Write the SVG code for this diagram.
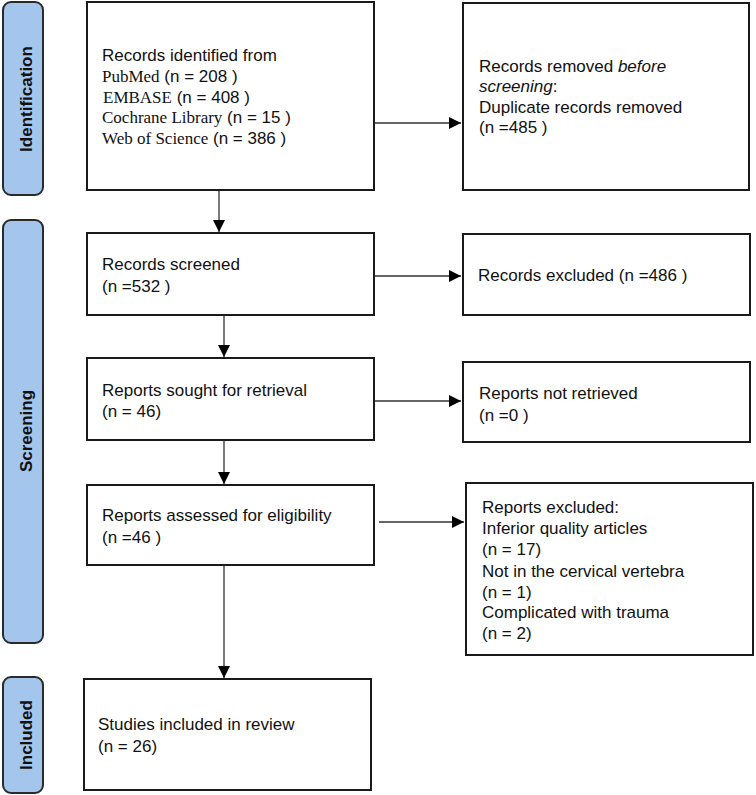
<svg xmlns="http://www.w3.org/2000/svg" width="756" height="795" viewBox="0 0 756 795">
<style>
.box{fill:#fff;stroke:#1a1a1a;stroke-width:2}
.tab{fill:#a4c6ec;stroke:#2a2a2a;stroke-width:2}
.t{font-family:"Liberation Sans",Arial,sans-serif;font-size:17px;fill:#111}
.s{font-family:"Liberation Serif","Times New Roman",serif}
.tl{font-family:"Liberation Sans",Arial,sans-serif;font-size:17px;font-weight:bold;fill:#111;text-anchor:middle}
.c{stroke:#333;stroke-width:1.3;fill:none;marker-end:url(#ah)}
</style>
<defs>
<marker id="ah" viewBox="0 0 10 10" refX="10" refY="5" markerUnits="userSpaceOnUse" markerWidth="12" markerHeight="12" orient="auto">
<path d="M0,0 L10,5 L0,10 z" fill="#000"/>
</marker>
</defs>
<rect width="756" height="795" fill="#fff"/>
<g id="tab-identification">
<rect class="tab" x="3" y="2" width="40" height="193" rx="8"/>
<text class="tl" transform="translate(31.5,99) rotate(-90)">Identification</text>
</g>
<g id="tab-screening">
<rect class="tab" x="3" y="220" width="40" height="423" rx="8"/>
<text class="tl" transform="translate(31.5,431) rotate(-90)">Screening</text>
</g>
<g id="tab-included">
<rect class="tab" x="3" y="677" width="40" height="116" rx="8"/>
<text class="tl" transform="translate(31.5,735) rotate(-90)">Included</text>
</g>
<g id="identified">
<rect class="box" x="87" y="2" width="287" height="188"/>
<text class="t" x="102" y="61">Records identified from</text>
<text class="t" x="102" y="82"><tspan class="s">PubMed</tspan> (n = 208 )</text>
<text class="t" x="103" y="103"><tspan class="s">EMBASE</tspan> (n = 408 )</text>
<text class="t" x="102" y="123"><tspan class="s">Cochrane Library</tspan> (n = 15 )</text>
<text class="t" x="102" y="144"><tspan class="s">Web of Science</tspan> (n = 386 )</text>
</g>
<g id="removed">
<rect class="box" x="463" y="3" width="286" height="187"/>
<text class="t" x="479" y="72">Records removed <tspan font-style="italic">before</tspan></text>
<text class="t" x="479" y="92"><tspan font-style="italic">screening</tspan>:</text>
<text class="t" x="479" y="113">Duplicate records removed</text>
<text class="t" x="479" y="133">(n =485 )</text>
</g>
<g id="screened">
<rect class="box" x="87" y="233" width="287" height="82"/>
<text class="t" x="102" y="270">Records screened</text>
<text class="t" x="102" y="292">(n =532 )</text>
</g>
<g id="excluded">
<rect class="box" x="463" y="234" width="287" height="81"/>
<text class="t" x="478" y="281">Records excluded (n =486 )</text>
</g>
<g id="sought">
<rect class="box" x="87" y="358" width="287" height="82"/>
<text class="t" x="102" y="396">Reports sought for retrieval</text>
<text class="t" x="102" y="417">(n = 46)</text>
</g>
<g id="not-retrieved">
<rect class="box" x="463" y="362" width="287" height="80"/>
<text class="t" x="479" y="399">Reports not retrieved</text>
<text class="t" x="479" y="421">(n =0 )</text>
</g>
<g id="assessed">
<rect class="box" x="87" y="485" width="287" height="80"/>
<text class="t" x="102" y="521">Reports assessed for eligibility</text>
<text class="t" x="102" y="543">(n =46 )</text>
</g>
<g id="reports-excluded">
<rect class="box" x="466" y="483" width="287" height="172"/>
<text class="t" x="482" y="513">Reports excluded:</text>
<text class="t" x="482" y="534">Inferior quality articles</text>
<text class="t" x="482" y="555">(n = 17)</text>
<text class="t" x="482" y="577">Not in the cervical vertebra</text>
<text class="t" x="482" y="598">(n = 1)</text>
<text class="t" x="482" y="618">Complicated with trauma</text>
<text class="t" x="482" y="639">(n = 2)</text>
</g>
<g id="included">
<rect class="box" x="84" y="679" width="287" height="111"/>
<text class="t" x="98" y="730">Studies included in review</text>
<text class="t" x="98" y="752">(n = 26)</text>
</g>
<g id="connectors">
<line class="c" x1="375" y1="123" x2="461" y2="123"/>
<line class="c" x1="219" y1="191" x2="219" y2="232"/>
<line class="c" x1="375" y1="276" x2="461" y2="276"/>
<line class="c" x1="224" y1="316" x2="224" y2="357"/>
<line class="c" x1="375" y1="401" x2="461" y2="401"/>
<line class="c" x1="224" y1="441" x2="224" y2="484"/>
<line class="c" x1="379" y1="522" x2="464" y2="522"/>
<line class="c" x1="224" y1="566" x2="224" y2="678"/>
</g>
</svg>
